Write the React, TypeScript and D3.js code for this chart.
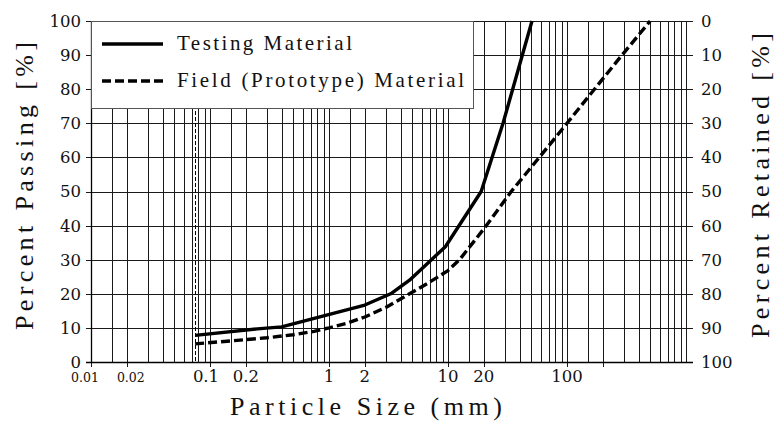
import React from "react";
import * as d3 from "d3";

// ---- data ----
const testingSize = [0.075, 0.25, 0.4, 2, 3.3, 4.75, 7, 9.5, 19, 29, 50.8];
const testingPassing = [7.8, 9.7, 10.3, 16.7, 20, 24, 29.5, 33.8, 50, 70, 100];

const fieldSize = [0.075, 0.15, 0.3, 0.5, 0.75, 1, 1.4, 2, 3, 4.75, 6.7, 10, 12.5, 15, 21, 34, 58.5, 100, 170, 290, 500];
const fieldPassing = [5.3, 6.2, 7.1, 8, 9, 10, 11.3, 13.2, 16, 20, 23, 26.8, 30, 33.5, 40, 50, 60, 70, 80, 90, 100];

const seriesNames = ["Testing Material", "Field (Prototype) Material"];

const decades = [0.01, 0.1, 1, 10, 100];
const gridMultipliers = [1, 1.5, 2, 3, 4, 5, 6, 7, 8, 9];
const xLabelValues = [0.01, 0.02, 0.1, 0.2, 1, 2, 10, 20, 100];
const xLabelTexts = ["0.01", "0.02", "0.1", "0.2", "1", "2", "10", "20", "100"];
const xTickValues = [0.01, 0.02, 0.1, 0.2, 1, 2, 10, 20, 100, 200];
const yTicks = [0, 10, 20, 30, 40, 50, 60, 70, 80, 90, 100];
const sieve200 = 0.075;

const W = 774;
const H = 423;
const L = 91, R = 686, T = 21, B = 362;

export default function App() {
  const x = d3.scaleLog().domain([0.01, 1000]).range([L, R]);
  const y = d3.scaleLinear().domain([0, 100]).range([B, T]);

  const gridX: number[] = [];
  decades.forEach((d) => gridMultipliers.forEach((m) => gridX.push(d * m)));
  gridX.push(1000);

  const line = d3
    .line<[number, number]>()
    .x((d) => x(d[0]))
    .y((d) => y(d[1]));

  const testingPts = testingSize.map((s, i) => [s, testingPassing[i]] as [number, number]);
  const fieldPts = fieldSize.map((s, i) => [s, fieldPassing[i]] as [number, number]);

  const numFont = "DejaVu Serif";
  const txtFont = "Liberation Serif";
  const labelSmall = new Set([0.01, 0.02]);
  const labelDx: Record<string, number> = { "0.01": -6, "0.02": 4, "0.1": -4 };
  const r = (v: number) => Math.round(v) + 0.5;

  return (
    <svg
      width={W}
      height={H}
      style={{ position: "absolute", left: 0, top: 0, background: "#fff" }}
    >
      <rect x={0} y={0} width={W} height={H} fill="#fff" />
      {/* vertical grid */}
      {gridX.map((v, i) => (
        <line
          key={"gx" + i}
          x1={r(x(v))}
          x2={r(x(v))}
          y1={T}
          y2={B}
          stroke="#1a1a1a"
          strokeWidth={1}
        />
      ))}
      {/* horizontal grid + ticks */}
      {yTicks.map((v) => (
        <line
          key={"gy" + v}
          x1={L - 5}
          x2={R + 7}
          y1={r(y(v))}
          y2={r(y(v))}
          stroke="#1a1a1a"
          strokeWidth={1}
        />
      ))}
      {/* No. 200 sieve */}
      <line
        x1={r(x(sieve200))}
        x2={r(x(sieve200))}
        y1={T}
        y2={B}
        stroke="#000"
        strokeWidth={1}
        strokeDasharray="4,2"
      />
      {/* bottom ticks */}
      {xTickValues.map((v) => (
        <line
          key={"bt" + v}
          x1={r(x(v))}
          x2={r(x(v))}
          y1={B}
          y2={B + 5}
          stroke="#1a1a1a"
          strokeWidth={1}
        />
      ))}
      <line x1={r(L)} x2={r(L)} y1={T} y2={B} stroke="#000" strokeWidth={1.3} />
      <line x1={L - 5} x2={R + 7} y1={r(B)} y2={r(B)} stroke="#000" strokeWidth={1.3} />

      {/* curves */}
      <path d={line(testingPts) || ""} fill="none" stroke="#000" strokeWidth={3.4} strokeLinejoin="round" />
      <path
        d={line(fieldPts) || ""}
        fill="none"
        stroke="#000"
        strokeWidth={3.4}
        strokeDasharray="9,4"
        strokeLinejoin="round"
      />

      {/* legend */}
      <rect x={r(L)} y={r(T)} width={382} height={87} fill="#fff" stroke="#555" strokeWidth={1} />
      <line x1={102} x2={163} y1={44} y2={44} stroke="#000" strokeWidth={3.4} />
      <line x1={102} x2={163} y1={81} y2={81} stroke="#000" strokeWidth={3.4} strokeDasharray="9,4" />
      <text x={177} y={50} fontFamily={txtFont} fontSize={21} textLength={175} lengthAdjust="spacing" fill="#111">
        {seriesNames[0]}
      </text>
      <text x={177} y={87} fontFamily={txtFont} fontSize={21} textLength={287} lengthAdjust="spacing" fill="#111">
        {seriesNames[1]}
      </text>

      {/* left y labels */}
      {yTicks.map((v) => (
        <text
          key={"yl" + v}
          x={81}
          y={y(v)}
          dy="0.36em"
          textAnchor="end"
          fontFamily={numFont}
          fontSize={16.5}
          fill="#111"
        >
          {v}
        </text>
      ))}
      {/* right y labels (retained) */}
      {yTicks.map((v) => (
        <text
          key={"yr" + v}
          x={701}
          y={y(v)}
          dy="0.36em"
          textAnchor="start"
          fontFamily={numFont}
          fontSize={16.5}
          fill="#111"
        >
          {100 - v}
        </text>
      ))}
      {/* x labels */}
      {xLabelValues.map((v, i) => (
        <text
          key={"xl" + v}
          x={x(v) + (labelDx[xLabelTexts[i]] || 0)}
          y={382}
          textAnchor="middle"
          fontFamily={numFont}
          fontSize={labelSmall.has(v) ? 12.5 : 16.5}
          fill="#111"
        >
          {xLabelTexts[i]}
        </text>
      ))}

      {/* axis titles */}
      <text x={366} y={415} textAnchor="middle" fontFamily={txtFont} fontSize={26} textLength={272} lengthAdjust="spacing" fill="#111">
        Particle Size (mm)
      </text>
      <text
        transform="translate(33,186) rotate(-90)"
        textAnchor="middle"
        fontFamily={txtFont}
        fontSize={26}
        textLength={288}
        lengthAdjust="spacing"
        fill="#111"
      >
        Percent Passing [%]
      </text>
      <text
        transform="translate(769,185.5) rotate(-90)"
        textAnchor="middle"
        fontFamily={txtFont}
        fontSize={26}
        textLength={305}
        lengthAdjust="spacing"
        fill="#111"
      >
        Percent Retained [%]
      </text>
    </svg>
  );
}
